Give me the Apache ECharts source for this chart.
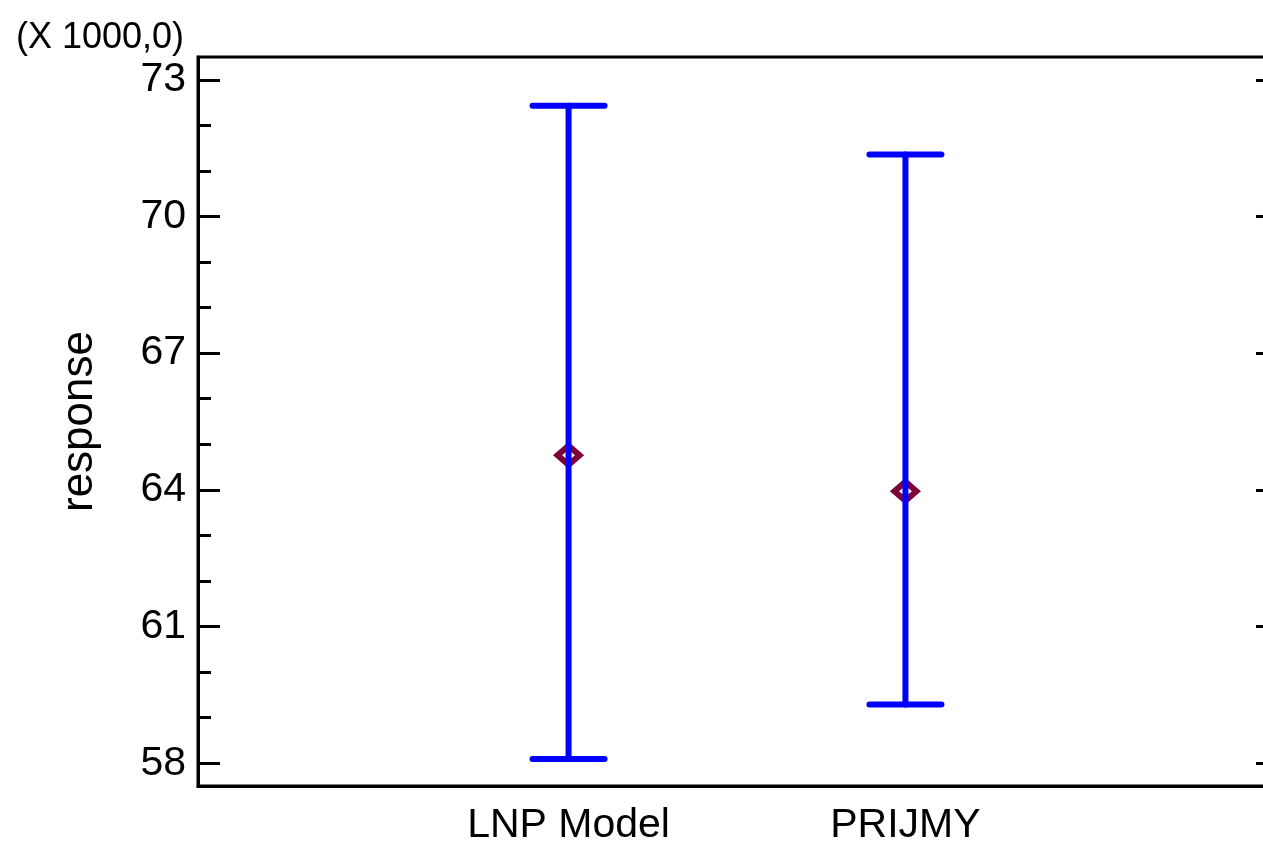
<!DOCTYPE html>
<html>
<head>
<meta charset="utf-8">
<script src="https://cdn.jsdelivr.net/npm/echarts@6/dist/echarts.min.js"></script>
<style>
html,body{margin:0;padding:0;background:#fff;overflow:hidden;width:1263px;height:843px;}
#chart{width:1290px;height:843px;}
</style>
</head>
<body>
<div id="chart"></div>
<script>
// ---- data (response in thousands) ----
const categories = ['LNP Model', 'PRIJMY'];
const categoryPos = [1, 2];
const means = [64.76, 63.97];
const lower = [58.09, 59.29];
const upper = [72.43, 71.36];
const yMajorTicks = [58, 61, 64, 67, 70, 73];
const yMinorTicks = [59, 60, 62, 63, 65, 66, 68, 69, 71, 72];
const scaleLabel = '(X 1000,0)';
const yName = 'response';

const NARROW = '"Liberation Sans Narrow", "Arial Narrow", "Liberation Sans", Arial, sans-serif';
const REG = '"Liberation Sans", Arial, sans-serif';

const chart = echarts.init(document.getElementById('chart'), null, {renderer: 'canvas'});

const barData = categoryPos.map((x, i) => [x, lower[i], upper[i]]);
const meanData = categoryPos.map((x, i) => [x, means[i]]);

const option = {
  backgroundColor: '#fff',
  animation: false,
  title: {
    text: scaleLabel,
    left: 11, top: 15,
    textStyle: {fontFamily: REG, fontSize: 36, fontWeight: 'normal', color: '#000'}
  },
  grid: {
    left: 198, top: 57, right: 14, bottom: 57,
    containLabel: false, outerBoundsMode: 'none',
    show: true, borderColor: '#000', borderWidth: 3, backgroundColor: 'transparent'
  },
  xAxis: {
    type: 'value', min: -0.1, max: 3.1,
    axisLine: {show: true, onZero: false, lineStyle: {color: '#000', width: 3}},
    axisTick: {show: false},
    splitLine: {show: false},
    axisLabel: {
      customValues: categoryPos,
      formatter: v => categories[categoryPos.indexOf(v)] || '',
      fontFamily: NARROW, fontSize: 41, color: '#000', margin: 19
    }
  },
  yAxis: [
    {
      type: 'value', min: 57.5, max: 73.5, position: 'left', offset: 0,
      name: yName, nameLocation: 'middle', nameRotate: 90, nameGap: 96,
      nameTextStyle: {fontFamily: REG, fontSize: 44, color: '#000'},
      axisLine: {show: true, onZero: false, lineStyle: {color: '#000', width: 3}},
      axisTick: {show: true, inside: true, length: 22, customValues: yMajorTicks, lineStyle: {color: '#000', width: 3}},
      axisLabel: {customValues: yMajorTicks, fontFamily: NARROW, fontSize: 41, color: '#000', margin: 12},
      splitLine: {show: false}
    },
    {
      type: 'value', min: 57.5, max: 73.5, position: 'left', offset: 0,
      axisLine: {show: false, onZero: false},
      axisTick: {show: true, inside: true, length: 13, customValues: yMinorTicks, lineStyle: {color: '#000', width: 3}},
      axisLabel: {show: false},
      splitLine: {show: false}
    },
    {
      type: 'value', min: 57.5, max: 73.5, position: 'right', offset: 0,
      axisLine: {show: false, onZero: false},
      axisTick: {show: true, inside: true, length: 20, customValues: yMajorTicks, lineStyle: {color: '#000', width: 3}},
      axisLabel: {show: false},
      splitLine: {show: false}
    }
  ],
  series: [
    {
      type: 'scatter',
      data: meanData,
      symbol: 'diamond',
      symbolSize: [22, 19],
      itemStyle: {color: '#fff', borderColor: '#7d0038', borderWidth: 6, opacity: 1},
      z: 2
    },
    {
      type: 'custom',
      data: barData,
      encode: {x: 0, y: [1, 2]},
      z: 3,
      renderItem: function (params, api) {
        const x = api.value(0);
        const lo = api.coord([x, api.value(1)]);
        const hi = api.coord([x, api.value(2)]);
        const hw = 36;
        const style = {stroke: '#0000ff', lineWidth: 6, lineCap: 'round', fill: null};
        return {
          type: 'group',
          children: [
            {type: 'line', shape: {x1: lo[0], y1: lo[1], x2: hi[0], y2: hi[1]}, style: style},
            {type: 'line', shape: {x1: hi[0] - hw, y1: hi[1], x2: hi[0] + hw, y2: hi[1]}, style: style},
            {type: 'line', shape: {x1: lo[0] - hw, y1: lo[1], x2: lo[0] + hw, y2: lo[1]}, style: style}
          ]
        };
      }
    }
  ]
};
chart.setOption(option);
</script>
</body>
</html>
